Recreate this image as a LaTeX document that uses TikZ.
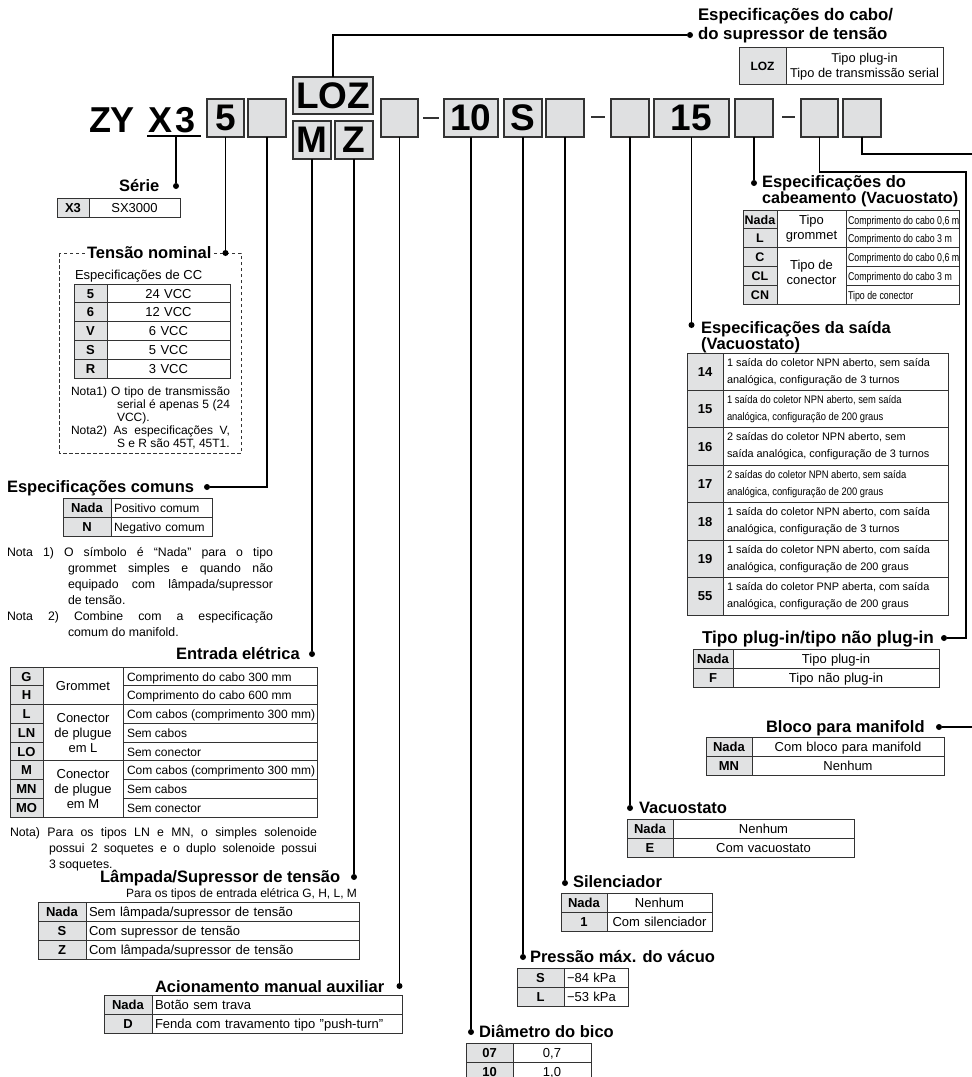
\documentclass[tikz,border=0pt]{standalone}
\usepackage{fontspec}
\setmainfont{Liberation Sans}
\usetikzlibrary{calc}
\definecolor{boxfill}{HTML}{DFE0E1}
\definecolor{keyfill}{HTML}{E1E2E3}
\definecolor{tline}{HTML}{333333}
\newcommand{\fsz}[1]{\fontsize{#1}{#1}\selectfont}
% #1 name, #2 x1, #3 xdiv, #4 x2, #5 ytop, #6 row height, #7 align, #8 rows, #9 value style
\newcommand{\tabtwo}[9]{%
  \pgfmathsetmacro{\tabw}{#4-#3-6}%
  \foreach \kk/\vv [count=\ii] in {#8} {%
    \pgfmathsetmacro{\ya}{#5+(\ii-1)*#6}%
    \pgfmathsetmacro{\yb}{#5+\ii*#6}%
    \pgfmathsetmacro{\yc}{#5+(\ii-0.5)*#6}%
    \fill[keyfill] (#2,\ya) rectangle (#3,\yb);
    \draw[grid] (#2,\ya) rectangle (#4,\yb) (#3,\ya) -- (#3,\yb);
    \node[keytxt] (#1-k\ii) at ({(#2+#3)/2},\yc) {\kk};
    \node[valtxt, #9, anchor=west, inner xsep=3pt, text width=\tabw pt, align=#7] (#1-v\ii) at (#3,\yc) {\vv};
  }%
}
\tikzset{
  every node/.style={inner sep=0pt, outer sep=0pt},
  code/.style={draw=tline, fill=boxfill, line width=1.2pt, minimum height=38pt, inner sep=0pt, font=\bfseries\fsz{37}},
  conn/.style={line width=1.3pt, black},
  dotn/.style={circle, fill=black, inner sep=0pt, minimum size=6pt},
  head/.style={anchor=base west, inner sep=0pt, font=\bfseries\fsz{16.5}},
  grid/.style={draw=tline, line width=0.9pt},
  keytxt/.style={inner sep=0pt, font=\bfseries\fsz{13}, text height=11pt, text depth=1.7pt},
  valtxt/.style={inner sep=0pt, font=\fsz{13}, text height=11pt, text depth=1.7pt},
  note/.style={anchor=base west, inner sep=0pt, font=\fsz{12.3}},
  dashbar/.style={line width=2.6pt, tline},
}
\begin{document}
\begin{tikzpicture}[x=1pt, y=-1pt]
\fill[white] (0,0) rectangle (972,1077);
\useasboundingbox (0,0) rectangle (972,1077);

% ---------- code row ----------
\node[anchor=base west, font=\bfseries\fsz{36}] (tZY) at (89,132) {ZY};
\node[anchor=base west, font=\bfseries\fsz{36}] (tX3) at (148,132) {X\kern3pt3};
\draw[line width=1.2pt] (147,136) -- (201,136);
\coordinate (ul) at (176,136);

\node[code, minimum width=37pt] (b5) at (225.5,118) {5};
\node[code, minimum width=38pt] (bA) at (267,118) {};
\node[code, minimum width=80pt, minimum height=37pt] (bLOZ) at (333,95.5) {LOZ};
\node[code, minimum width=38pt] (bM) at (312,140) {M};
\node[code, minimum width=38pt] (bZ) at (354,140) {Z};
\node[code, minimum width=37pt] (bB) at (399.5,118) {};
\draw[dashbar] (423,118) -- (439,118);
\node[code, minimum width=54pt] (b10) at (471,118) {10};
\node[code, minimum width=38pt] (bS) at (523,118) {S};
\node[code, minimum width=38pt] (bC) at (565,118) {};
\draw[dashbar] (591,117) -- (605,117);
\node[code, minimum width=38pt] (bD) at (630,118) {};
\node[code, minimum width=75pt] (b15) at (691.5,118) {15};
\node[code, minimum width=38pt] (bE) at (754,118) {};
\draw[dashbar] (782,117) -- (795,117);
\node[code, minimum width=37pt] (bF) at (819.5,118) {};
\node[code, minimum width=38pt] (bG) at (862,118) {};

% ---------- Cabo / supressor ----------
\node[head, font=\bfseries\fsz{16.8}] (hCb1) at (698,20) {Especificações do cabo/};
\node[head, font=\bfseries\fsz{16.8}] (hCb2) at (698,39) {do supressor de tensão};
\node[dotn] (dCb) at (690,35) {};
\fill[keyfill] (739,47) rectangle (786,84);
\draw[grid] (739,47) rectangle (943,84) (786,47) -- (786,84);
\node[keytxt, font=\bfseries\fsz{12}] (loz-k) at (762.5,65.5) {LOZ};
\node[align=center, font=\fontsize{12.8}{15}\selectfont] (loz-v) at (864.5,67) {Tipo plug-in\\Tipo de transmissão serial};

% ---------- Série ----------
\node[head] (hSer) at (119,191) {Série};
\node[dotn] (dSer) at (176,186) {};
\tabtwo{ser}{57}{89}{180}{198}{19}{center}{X3/SX3000}{}

% ---------- Tensão nominal ----------
\draw[tline, line width=0.8pt, dash pattern=on 3.5pt off 2.5pt] (59,253) rectangle (241,453);
\node[head, fill=white, inner xsep=2pt] (hTen) at (85,258) {Tensão nominal};
\node[dotn] (dTen) at (225.5,253) {};
\node[anchor=base west, font=\fsz{13}] (ccTen) at (75,279) {Especificações de CC};
\tabtwo{ten}{74}{107}{230}{284}{18.8}{center}{5/{24 VCC},6/{12 VCC},V/{6 VCC},S/{5 VCC},R/{3 VCC}}{}
\node[note, font=\fsz{12}] (nT1) at (71,395) {\makebox[159pt][s]{Nota1) O tipo de transmissão}};
\node[note, font=\fsz{12}] (nT2) at (117,408) {\makebox[113pt][s]{serial é apenas 5 (24}};
\node[note, font=\fsz{12}] (nT3) at (117,421) {VCC).};
\node[note, font=\fsz{12}] (nT4) at (71,434) {\makebox[159pt][s]{Nota2) As especificações V,}};
\node[note, font=\fsz{12}] (nT5) at (117,447) {S e R são 45T, 45T1.};

% ---------- Especificações comuns ----------
\node[head] (hCom) at (7,492) {Especificações comuns};
\node[dotn] (dCom) at (207,487) {};
\tabtwo{com}{63}{111}{212}{498}{19}{left}{Nada/{Positivo comum},N/{Negativo comum}}{font=\fsz{12}}
\node[note] (nC1) at (7,556) {\makebox[266pt][s]{Nota 1) O símbolo é “Nada” para o tipo}};
\node[note] (nC2) at (68,572) {\makebox[205pt][s]{grommet simples e quando não}};
\node[note] (nC3) at (68,588) {\makebox[205pt][s]{equipado com lâmpada/supressor}};
\node[note] (nC4) at (68,604) {de tensão.};
\node[note] (nC5) at (7,620) {\makebox[266pt][s]{Nota 2) Combine com a especificação}};
\node[note] (nC6) at (68,636) {comum do manifold.};

% ---------- Entrada elétrica ----------
\node[head] (hEnt) at (176,659) {Entrada elétrica};
\node[dotn] (dEnt) at (312,654) {};
\fill[keyfill] (10,667) rectangle (43,817);
\foreach \kk/\vv [count=\ii] in {G/{Comprimento do cabo 300 mm},H/{Comprimento do cabo 600 mm},L/{Com cabos (comprimento 300 mm)},LN/{Sem cabos},LO/{Sem conector},M/{Com cabos (comprimento 300 mm)},MN/{Sem cabos},MO/{Sem conector}} {
  \pgfmathsetmacro{\ya}{667+(\ii-1)*18.75}
  \pgfmathsetmacro{\yc}{667+(\ii-0.5)*18.75}
  \draw[grid] (10,\ya) -- (43,\ya) (123,\ya) -- (317,\ya);
  \node[keytxt] (ent-k\ii) at (26.5,\yc) {\kk};
  \node[valtxt, font=\fsz{12}, anchor=west] (ent-v\ii) at (127,\yc) {\vv};
}
\draw[grid] (43,704.5) -- (123,704.5) (43,760.75) -- (123,760.75);
\draw[grid] (10,667) rectangle (317,817) (43,667) -- (43,817) (123,667) -- (123,817);
\node[align=center, font=\fontsize{13}{15}\selectfont] (ent-g1) at (83,686) {Grommet};
\node[align=center, font=\fontsize{13}{15}\selectfont] (ent-g2) at (83,733) {Conector\\de plugue\\em L};
\node[align=center, font=\fontsize{13}{15}\selectfont] (ent-g3) at (83,789) {Conector\\de plugue\\em M};
\node[note] (nE1) at (10,836) {\makebox[307pt][s]{Nota) Para os tipos LN e MN, o simples solenoide}};
\node[note] (nE2) at (49,852) {\makebox[268pt][s]{possui 2 soquetes e o duplo solenoide possui}};
\node[note] (nE3) at (49,868) {3 soquetes.};

% ---------- Lâmpada ----------
\node[head] (hLam) at (100,882) {Lâmpada/Supressor de tensão};
\node[dotn] (dLam) at (354,877) {};
\node[anchor=base east, font=\fsz{12}] (sLam) at (357,897) {Para os tipos de entrada elétrica G, H, L, M};
\tabtwo{lam}{38}{86}{359}{902}{19}{left}{Nada/{Sem lâmpada/supressor de tensão},S/{Com supressor de tensão},Z/{Com lâmpada/supressor de tensão}}{}

% ---------- Acionamento ----------
\node[head] (hAci) at (155,992) {Acionamento manual auxiliar};
\node[dotn] (dAci) at (399.5,986) {};
\tabtwo{aci}{104}{152}{402}{995}{19}{left}{Nada/{Botão sem trava},D/{Fenda com travamento tipo "push-turn"}}{}

% ---------- Diâmetro ----------
\node[head] (hDia) at (479,1037) {Diâmetro do bico};
\node[dotn] (dDia) at (471,1032) {};
\tabtwo{dia}{466}{513}{591}{1043}{19}{center}{07/{0,7},10/{1,0}}{}

% ---------- Pressão ----------
\node[head] (hPre) at (530,962) {Pressão máx. do vácuo};
\node[dotn] (dPre) at (523,957) {};
\tabtwo{pre}{517}{564}{628}{968}{19}{left}{S/{−84 kPa},L/{−53 kPa}}{}

% ---------- Silenciador ----------
\node[head] (hSil) at (573,887) {Silenciador};
\node[dotn] (dSil) at (565,883) {};
\tabtwo{sil}{561}{607}{712}{893}{19}{center}{Nada/{Nenhum},1/{Com silenciador}}{}

% ---------- Vacuostato ----------
\node[head] (hVac) at (639,813) {Vacuostato};
\node[dotn] (dVac) at (630,808) {};
\tabtwo{vac}{627}{673}{854}{819}{19}{center}{Nada/{Nenhum},E/{Com vacuostato}}{}

% ---------- Bloco ----------
\node[head] (hBlo) at (766,732) {Bloco para manifold};
\node[dotn] (dBlo) at (939,727) {};
\tabtwo{blo}{706}{752}{944}{737}{19}{center}{Nada/{Com bloco para manifold},MN/{Nenhum}}{}

% ---------- Tipo plug-in ----------
\node[head, font=\bfseries\fsz{17.2}] (hPlu) at (702,643) {Tipo plug-in/tipo não plug-in};
\node[dotn] (dPlu) at (944,638) {};
\tabtwo{plu}{693}{733}{939}{649}{19}{center}{Nada/{Tipo plug-in},F/{Tipo não plug-in}}{}

% ---------- Saída ----------
\node[head] (hSai1) at (701,333) {Especificações da saída};
\node[head] (hSai2) at (701,349) {(Vacuostato)};
\node[dotn] (dSai) at (691.5,325) {};
\foreach \kk/\la/\lb/\sc [count=\ii] in {
 14/{1 saída do coletor NPN aberto, sem saída}/{analógica, configuração de 3 turnos}/1,
 15/{1 saída do coletor NPN aberto, sem saída}/{analógica, configuração de 200 graus}/0.86,
 16/{2 saídas do coletor NPN aberto, sem}/{saída analógica, configuração de 3 turnos}/1,
 17/{2 saídas do coletor NPN aberto, sem saída}/{analógica, configuração de 200 graus}/0.86,
 18/{1 saída do coletor NPN aberto, com saída}/{analógica, configuração de 3 turnos}/1,
 19/{1 saída do coletor NPN aberto, com saída}/{analógica, configuração de 200 graus}/1,
 55/{1 saída do coletor PNP aberta, com saída}/{analógica, configuração de 200 graus}/1} {
  \pgfmathsetmacro{\ya}{353+(\ii-1)*37.43}
  \pgfmathsetmacro{\yb}{353+\ii*37.43}
  \pgfmathsetmacro{\yc}{353+(\ii-0.5)*37.43}
  \fill[keyfill] (687,\ya) rectangle (723,\yb);
  \draw[grid] (687,\ya) rectangle (948,\yb) (723,\ya) -- (723,\yb);
  \node[keytxt] (sai-k\ii) at (705,\yc) {\kk};
  \node[anchor=west, align=left, font=\fontsize{10.9}{17}\selectfont] (sai-v\ii) at (727,\yc) {\scalebox{\sc}[1]{\la}\\\scalebox{\sc}[1]{\lb}};
}

% ---------- Cabeamento ----------
\node[head] (hCab1) at (762,187) {Especificações do};
\node[head, font=\bfseries\fsz{16.2}] (hCab2) at (762,203) {cabeamento (Vacuostato)};
\node[dotn] (dCab) at (754,183) {};
\fill[keyfill] (743,210) rectangle (777,304);
\foreach \kk/\vv [count=\ii] in {Nada/{Comprimento do cabo 0,6 m},L/{Comprimento do cabo 3 m},C/{Comprimento do cabo 0,6 m},CL/{Comprimento do cabo 3 m},CN/{Tipo de conector}} {
  \pgfmathsetmacro{\ya}{210+(\ii-1)*18.8}
  \pgfmathsetmacro{\yc}{210+(\ii-0.5)*18.8}
  \draw[grid] (743,\ya) -- (777,\ya) (846,\ya) -- (959,\ya);
  \node[keytxt, font=\bfseries\fsz{12.5}] (cab-k\ii) at (760,\yc) {\kk};
  \node[valtxt, anchor=west] (cab-v\ii) at (848,\yc) {\scalebox{0.78}[1]{\fsz{11.3}\vv}};
}
\draw[grid] (777,247.6) -- (846,247.6);
\draw[grid] (743,210) rectangle (959,304) (777,210) -- (777,304) (846,210) -- (846,304);
\node[align=center, font=\fontsize{13}{15}\selectfont] (cab-g1) at (811.5,229) {Tipo\\grommet};
\node[align=center, font=\fontsize{13}{15}\selectfont] (cab-g2) at (811.5,272) {Tipo de\\conector};

% ---------- connectors ----------
\draw[conn] (ul) -- (dSer);
\draw[conn] (b5) -- (dTen);
\draw[conn] (bA) |- (dCom);
\draw[conn] (bM) -- (dEnt);
\draw[conn] (bZ) -- (dLam);
\draw[conn] (bB) -- (dAci);
\draw[conn] (b10) -- (dDia);
\draw[conn] (bS) -- (dPre);
\draw[conn] (bC) -- (dSil);
\draw[conn] (bD) -- (dVac);
\draw[conn] (b15) -- (dSai);
\draw[conn] (bE) -- (dCab);
\coordinate (jF) at (966,172);
\draw[conn] (bF) |- (jF) |- (dPlu);
\coordinate (eG) at (975,154);
\draw[conn] (bG) |- (eG);
\coordinate (eB) at (975,727);
\draw[conn] (dBlo) -- (eB);
\draw[conn] (bLOZ) |- (dCb);
\end{tikzpicture}
\end{document}
